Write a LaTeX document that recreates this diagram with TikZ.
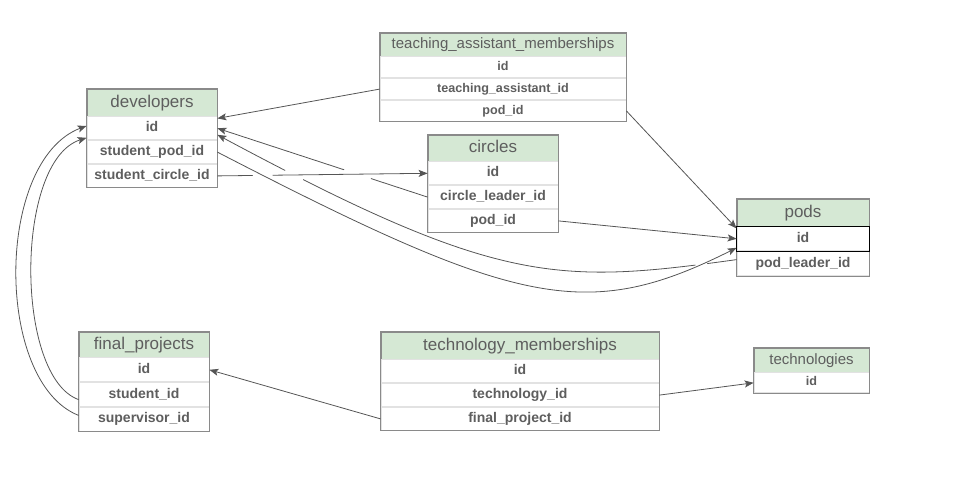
\documentclass[tikz,border=0pt]{standalone}
\usepackage{fontspec}
\setmainfont{Liberation Sans}
\usetikzlibrary{positioning,arrows.meta,intersections}
\definecolor{hdrgreen}{HTML}{D5E8D4}
\definecolor{tblgray}{HTML}{8A8A8A}
\definecolor{rowgray}{HTML}{E2E2E2}
\definecolor{txtgray}{HTML}{5E5E5E}
\definecolor{fkgray}{HTML}{555555}

\begin{document}
\begin{tikzpicture}[x=1pt, y=-1pt, >={Stealth[length=9pt, width=7pt, inset=2pt]}, line width=0.8pt]
\tikzset{
	tblhead/.style={draw=tblgray, fill=hdrgreen, text=txtgray, inner sep=0pt, minimum width=#1, minimum height=27pt, font=\fontsize{17}{20}\selectfont, text height=12.5pt, text depth=3.5pt},
	tblfield/.style={draw=rowgray, fill=white, text=txtgray, inner sep=0pt, minimum width=#1, minimum height=23pt, font=\bfseries\fontsize{14}{16}\selectfont, text height=10pt, text depth=3pt},
	tblsmall/.style={font=\fontsize{15}{18}\selectfont, text height=11pt, text depth=3pt},
	fieldsmall/.style={font=\bfseries\fontsize{12.6}{15}\selectfont, text height=9pt, text depth=2.7pt},
	tblframe/.style={draw=tblgray, line width=1pt},
	fk/.style={draw=fkgray, ->},
	jumpgap/.style={fill=white}
}
\useasboundingbox (0,0) rectangle (955,480);

% developers
\node[tblhead=130pt] (dev) at (152,102.5) {developers};
\node[tblfield=130pt, below=0pt of dev] (dev-id) {id};
\node[tblfield=130pt, below=0pt of dev-id] (dev-spid) {student\_pod\_id};
\node[tblfield=130pt, below=0pt of dev-spid] (dev-scid) {student\_circle\_id};
\draw[tblframe] (dev.north west) rectangle (dev-scid.south east);

% teaching_assistant_memberships
\node[tblhead=246pt, tblsmall, minimum height=23pt] (ta) at (503,44.5) {teaching\_assistant\_memberships};
\node[tblfield=246pt, fieldsmall, minimum height=21pt, below=0pt of ta] (ta-id) {id};
\node[tblfield=246pt, fieldsmall, minimum height=21pt, below=0pt of ta-id] (ta-taid) {teaching\_assistant\_id};
\node[tblfield=246pt, fieldsmall, minimum height=21pt, below=0pt of ta-taid] (ta-podid) {pod\_id};
\draw[tblframe] (ta.north west) rectangle (ta-podid.south east);

% circles
\node[tblhead=130pt, minimum height=26pt] (cir) at (493,148) {circles};
\node[tblfield=130pt, below=0pt of cir] (cir-id) {id};
\node[tblfield=130pt, below=0pt of cir-id] (cir-clid) {circle\_leader\_id};
\node[tblfield=130pt, below=0pt of cir-clid] (cir-podid) {pod\_id};
\draw[tblframe] (cir.north west) rectangle (cir-podid.south east);

% pods
\node[tblhead=132pt] (pods) at (803,212.5) {pods};
\node[tblfield=132pt, minimum height=24pt, below=0pt of pods] (pods-id) {id};
\node[tblfield=132pt, minimum height=24pt, below=0pt of pods-id] (pods-plid) {pod\_leader\_id};
\draw[tblframe] (pods.north west) rectangle (pods-plid.south east);
\draw[black, line width=1pt] (pods-id.north west) rectangle (pods-id.south east);

% final_projects
\node[tblhead=130pt, minimum height=25pt] (fp) at (144,344.5) {final\_projects};
\node[tblfield=130pt, minimum height=24pt, below=0pt of fp] (fp-id) {id};
\node[tblfield=130pt, minimum height=24pt, below=0pt of fp-id] (fp-sid) {student\_id};
\node[tblfield=130pt, minimum height=24pt, below=0pt of fp-sid] (fp-svid) {supervisor\_id};
\draw[tblframe] (fp.north west) rectangle (fp-svid.south east);

% technology_memberships
\node[tblhead=278pt] (tm) at (520,345.5) {technology\_memberships};
\node[tblfield=278pt, below=0pt of tm] (tm-id) {id};
\node[tblfield=278pt, below=0pt of tm-id] (tm-techid) {technology\_id};
\node[tblfield=278pt, below=0pt of tm-techid] (tm-fpid) {final\_project\_id};
\draw[tblframe] (tm.north west) rectangle (tm-fpid.south east);

% technologies
\node[tblhead=115pt, tblsmall, minimum height=24pt] (tech) at (811.5,360) {technologies};
\node[tblfield=115pt, fieldsmall, minimum height=20pt, below=0pt of tech] (tech-id) {id};
\draw[tblframe] (tech.north west) rectangle (tech-id.south east);

% foreign keys
\draw[fk] (ta-taid.west) -- ([yshift=-2pt]dev-id.north east);
\draw[fk] (ta-podid.east) -- ([yshift=-2pt]pods-id.north west);
\draw[fk] (cir-podid.east) -- (pods-id.west);
\draw[fk] ([yshift=4pt]fp-svid.west) .. controls +(-84,-33) and +(-92,35) .. ([yshift=2.5pt]dev-id.west);
\draw[fk] ([yshift=-5pt]fp-sid.west) .. controls +(-64,-23) and +(-72,23) .. ([yshift=-9.5pt]dev-id.west);
\draw[fk] (tm-fpid.west) -- (fp-id.east);
\draw[fk] (tm-techid.east) -- (tech-id.west);

% crossings with gaps
\path[name path=hz] (dev-scid.east) -- (cir-id.west);
\draw[fk, name path=clead] (cir-clid.west) -- (dev-id.east);
\draw[fk, name path=plead] ([yshift=4pt]pods-plid.west) .. controls +(-180,25) and +(280,150) .. ([yshift=-6.5pt]dev-id.east);
\fill[jumpgap, name intersections={of=hz and clead}] (intersection-1) circle (14pt);
\fill[jumpgap, name intersections={of=hz and plead}] (intersection-1) circle (10pt);
\draw[fk] (dev-scid.east) -- (cir-id.west);
\path[name path=spod] (dev-spid.east) .. controls +(300,155) and +(-150,75) .. ([yshift=-9pt]pods-id.west);
\fill[jumpgap, name intersections={of=hz and spod}] (intersection-1) circle (10pt);
\fill[jumpgap, name intersections={of=plead and spod}] (intersection-1) circle (6pt);
\draw[fk] (dev-spid.east) .. controls +(300,155) and +(-150,75) .. ([yshift=-9pt]pods-id.west);

\end{tikzpicture}
\end{document}
